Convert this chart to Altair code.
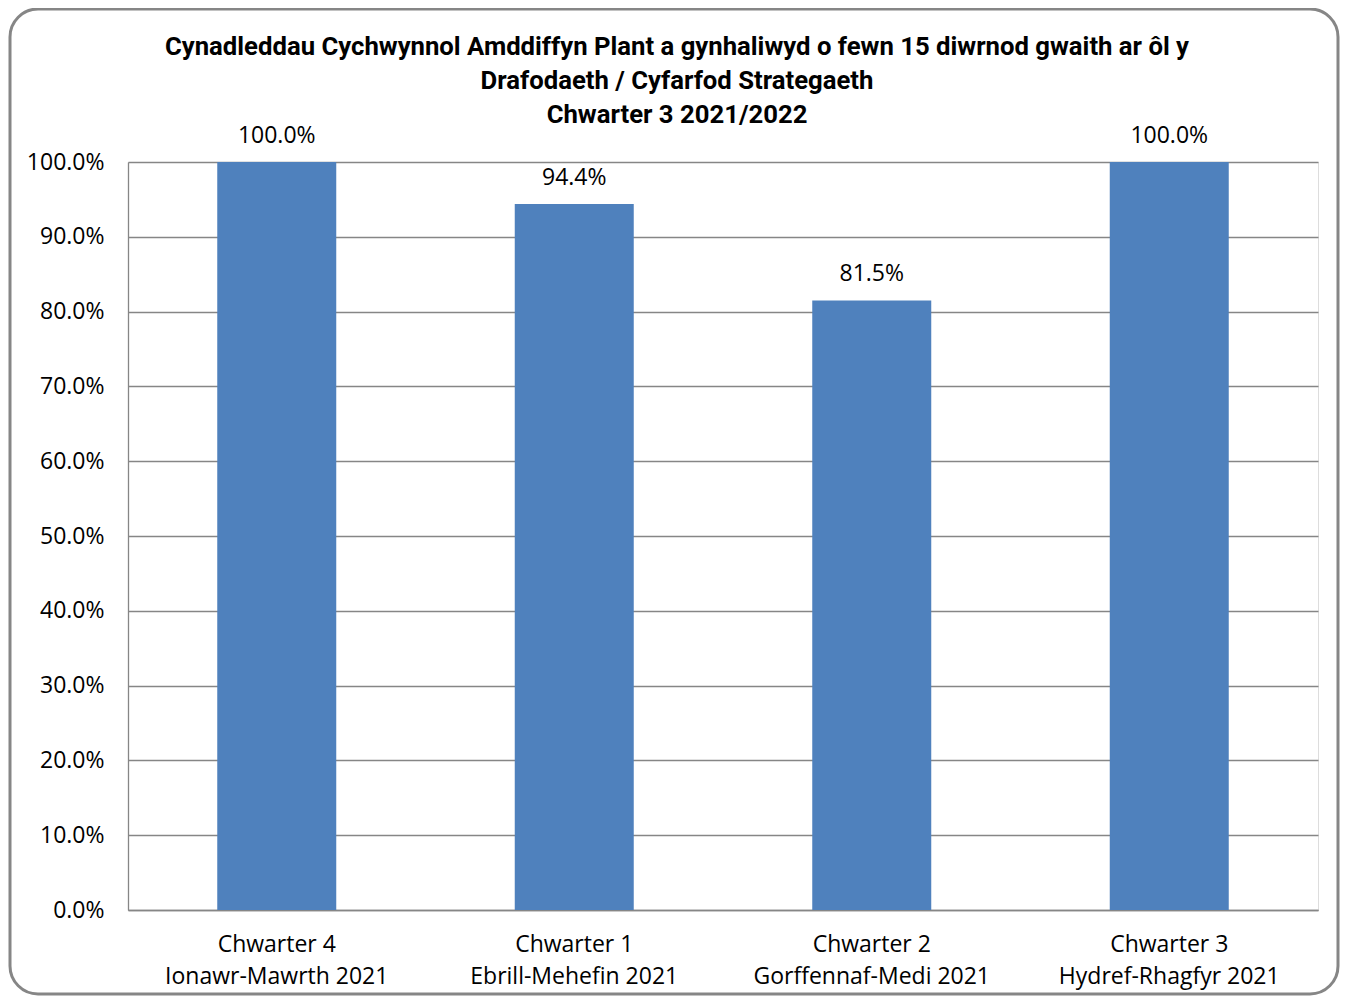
import altair as alt
import pandas as pd

quarters = ["Chwarter 4", "Chwarter 1", "Chwarter 2", "Chwarter 3"]
periods = ["Ionawr-Mawrth 2021", "Ebrill-Mehefin 2021", "Gorffennaf-Medi 2021", "Hydref-Rhagfyr 2021"]
values = [1.0, 0.944, 0.815, 1.0]
title_lines = [
    "Cynadleddau Cychwynnol Amddiffyn Plant a gynhaliwyd o fewn 15 diwrnod gwaith ar ôl y",
    "Drafodaeth / Cyfarfod Strategaeth",
    "Chwarter 3  2021/2022",
]

labels = [f"{q}\n{p}" for q, p in zip(quarters, periods)]
df = pd.DataFrame({"cat": labels, "value": values})

W, H = 1190, 748
LABEL_FONT = "Open Sans"
TITLE_FONT = "Roboto"

x = alt.X(
    "cat:N",
    sort=labels,
    scale=alt.Scale(paddingInner=0.6, paddingOuter=0.3),
    axis=alt.Axis(
        title=None, labelAngle=0, labelFontSize=23, labelFont=LABEL_FONT, labelColor="#000000",
        labelPadding=23, labelLineHeight=32, labelLimit=0, ticks=False, domainColor="#868686",
        domainWidth=1.3, labelExpr="split(datum.label, '\\n')",
    ),
)
y = alt.Y(
    "value:Q",
    scale=alt.Scale(domain=[0, 1], nice=False),
    axis=alt.Axis(
        title=None, format=".1%", values=[i / 10 for i in range(11)], labelFontSize=23,
        labelFont=LABEL_FONT, labelColor="#000000", labelPadding=24, ticks=False,
        domainColor="#868686", domainWidth=1.3, gridColor="#868686", gridWidth=1.3,
    ),
)

base = alt.Chart(df)
bars = base.mark_bar(color="#4F81BD").encode(x=x, y=y)
texts = base.mark_text(
    baseline="alphabetic", dy=-19, fontSize=23, font=LABEL_FONT, color="#000000"
).encode(x=x, y=y, text=alt.Text("value:Q", format=".1%"))

title_df = pd.DataFrame({"t": ["\n".join(title_lines)]})
title = alt.Chart(title_df).mark_text(
    font=TITLE_FONT, fontSize=25.7, fontWeight="bold", lineBreak="\n", lineHeight=34,
    align="center", baseline="alphabetic", color="#000000",
).encode(x=alt.value(549), y=alt.value(-107), text="t:N")

border_df = pd.DataFrame({"b": [1]})
border = alt.Chart(border_df).mark_rect(
    fill=None, stroke="#868686", strokeWidth=3, cornerRadius=28, fillOpacity=0
).encode(
    x=alt.value(-118), x2=alt.value(1210), y=alt.value(-153), y2=alt.value(832)
)

chart = alt.layer(border, bars, texts, title).properties(
    width=W, height=H,
    autosize=alt.AutoSizeParams(type="none"),
    padding={"left": 120, "top": 154, "right": 22, "bottom": 86},
).configure_view(stroke=None).configure(background="white")

chart.save("out.html", embed_options={"renderer": "svg", "actions": False})
